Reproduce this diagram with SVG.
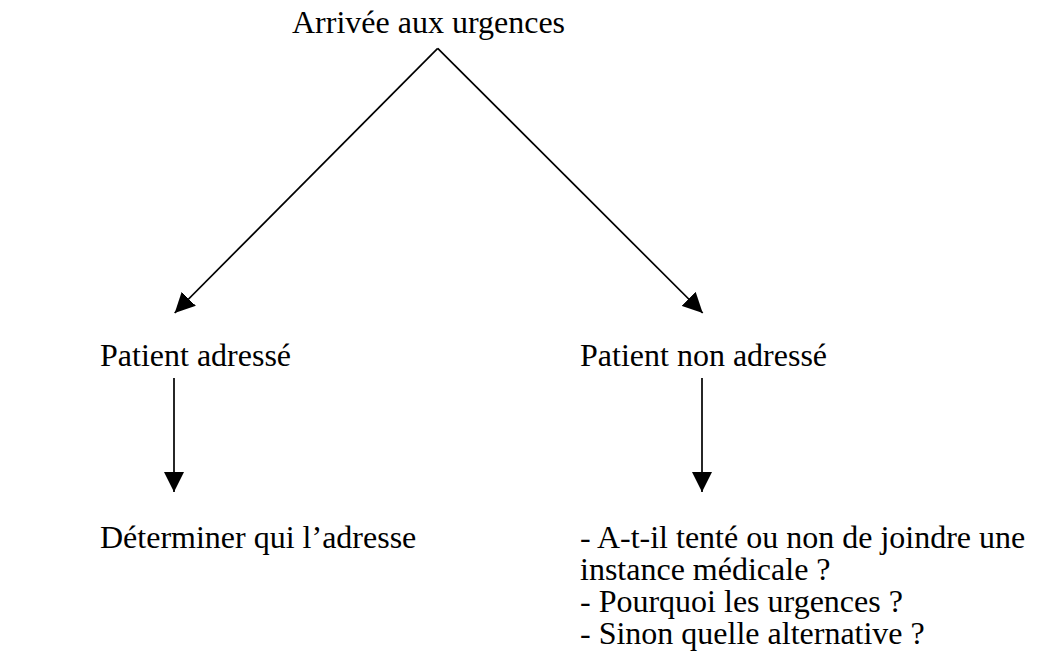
<svg xmlns="http://www.w3.org/2000/svg" width="1037" height="664" viewBox="0 0 1037 664">
<defs>
<style>
text{font-family:"Liberation Serif","Times New Roman",serif;font-size:32px;fill:#000}
.c{stroke:#000;stroke-width:1.7;fill:none}
</style>
<marker id="ah" markerUnits="userSpaceOnUse" markerWidth="20" markerHeight="20" viewBox="0 0 20 20" refX="20" refY="10" orient="auto">
<path d="M0,0 L20,10 L0,20 Z" fill="#000"/>
</marker>
</defs>
<rect width="1037" height="664" fill="#fff"/>
<g id="connectors">
<path class="c" d="M437.7,48.3 L174.7,313" marker-end="url(#ah)"/>
<path class="c" d="M437.7,48.3 L702.7,313" marker-end="url(#ah)"/>
<path class="c" d="M174,378 L174,492" marker-end="url(#ah)"/>
<path class="c" d="M702,378 L702,492" marker-end="url(#ah)"/>
</g>
<g id="arrivee"><text x="292" y="33">Arrivée aux urgences</text></g>
<g id="adresse"><text x="100" y="366">Patient adressé</text></g>
<g id="non-adresse"><text x="580" y="366">Patient non adressé</text></g>
<g id="determiner"><text x="100" y="548">Déterminer qui l’adresse</text></g>
<g id="questions">
<text x="580" y="548">- A-t-il tenté ou non de joindre une</text>
<text x="580" y="580">instance médicale ?</text>
<text x="580" y="612">- Pourquoi les urgences ?</text>
<text x="580" y="644">- Sinon quelle alternative ?</text>
</g>
</svg>
